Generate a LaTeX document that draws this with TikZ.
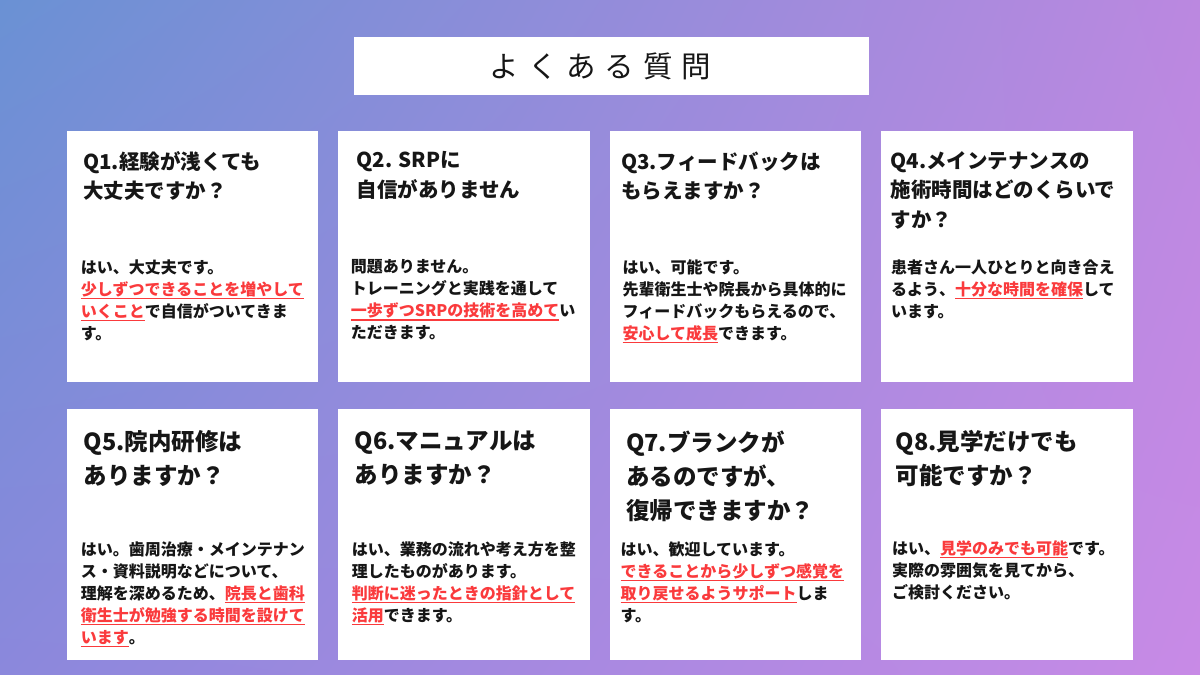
\documentclass[tikz,border=0pt]{standalone}
\usepackage{fontspec}
\setmainfont{Noto Sans CJK JP}
\newfontfamily\titlefont{Noto Sans CJK JP}
\usetikzlibrary{positioning, shadings}

\definecolor{BgTopLeft}{RGB}{106, 145, 212}
\definecolor{BgTopRight}{RGB}{187, 136, 224}
\definecolor{BgBottomLeft}{RGB}{139, 136, 220}
\definecolor{BgBottomRight}{RGB}{200, 138, 230}
\definecolor{Accent}{RGB}{250, 58, 60}
\definecolor{Ink}{RGB}{22, 22, 22}

\newsavebox{\keybox}
\newcommand{\keypoint}[1]{\textcolor{Accent}{\sbox{\keybox}{#1}%
    \rlap{\rule[-4pt]{\wd\keybox}{1.3pt}}\usebox{\keybox}}}

\begin{document}
\begin{tikzpicture}[
            x=1pt, y=-1pt,
            card/.style={rectangle, fill=white, minimum width=251.7pt, minimum height=251pt,
                         inner sep=0pt, outer sep=0pt},
            ques/.style={anchor=north west, align=left, inner sep=0pt, text=Ink,
                         font=\bfseries\fontsize{20.5}{29.5}\selectfont},
            quesbig/.style={ques, font=\bfseries\fontsize{23.5}{34}\selectfont},
            ans/.style={anchor=north west, align=left, inner sep=0pt, text=Ink,
                        font=\bfseries\fontsize{16}{22}\selectfont},
            titlebox/.style={rectangle, fill=white, minimum width=515pt, minimum height=58pt,
                             inner sep=0pt, text=Ink, font=\titlefont\fontsize{29.5}{29.5}\selectfont}
        ]
            \shade[upper left=BgTopLeft, upper right=BgTopRight,
                   lower left=BgBottomLeft, lower right=BgBottomRight] (0,0) rectangle (1200,675);
            \useasboundingbox (0,0) rectangle (1200,675);

            \node[titlebox] (title) at (611.5,66)
                {よ\hspace{9pt}く\hspace{9pt}あ\hspace{9pt}る\hspace{9pt}質\hspace{9pt}問\kern22pt};

            % cards
            \node[card, anchor=north west] (card1) at (66.7,131.3) {};
            \node[card, right=19.7pt of card1] (card2) {};
            \node[card, right=19.7pt of card2] (card3) {};
            \node[card, right=19.7pt of card3] (card4) {};
            \node[card, below=27pt of card1] (card5) {};
            \node[card, right=19.7pt of card5] (card6) {};
            \node[card, right=19.7pt of card6] (card7) {};
            \node[card, right=19.7pt of card7] (card8) {};

            % questions
            \node[ques] (q1) at ([xshift=16.5pt, yshift=-20pt]card1.north west) {Q1.経験が浅くても\\大丈夫ですか？};
            \node[ques] (q2) at ([xshift=18.5pt, yshift=-20pt]card2.north west) {Q2. SRPに\\自信がありません};
            \node[ques] (q3) at ([xshift=11.5pt, yshift=-20pt]card3.north west) {Q3.フィードバックは\\もらえますか？};
            \node[ques] (q4) at ([xshift=9.5pt, yshift=-20pt]card4.north west) {Q4.メインテナンスの\\施術時間はどのくらいで\\すか？};
            \node[quesbig] (q5) at ([xshift=17pt, yshift=-21pt]card5.north west) {Q5.院内研修は\\ありますか？};
            \node[quesbig] (q6) at ([xshift=16.5pt, yshift=-21pt]card6.north west) {Q6.マニュアルは\\ありますか？};
            \node[quesbig] (q7) at ([xshift=16.5pt, yshift=-21pt]card7.north west) {Q7.ブランクが\\あるのですが、\\復帰できますか？};
            \node[quesbig] (q8) at ([xshift=14.5pt, yshift=-21pt]card8.north west) {Q8.見学だけでも\\可能ですか？};

            % answers
            \node[ans] (a1) at ([xshift=14pt, yshift=-128pt]card1.north west)
                {はい、大丈夫です。\\\keypoint{少しずつできることを増やして}\\\keypoint{いくこと}で自信がついてきま\\す。};
            \node[ans] (a2) at ([xshift=12.5pt, yshift=-128pt]card2.north west)
                {問題ありません。\\トレーニングと実践を通して\\\keypoint{一歩ずつSRPの技術を高めて}い\\ただきます。};
            \node[ans] (a3) at ([xshift=13pt, yshift=-128pt]card3.north west)
                {はい、可能です。\\先輩衛生士や院長から具体的に\\フィードバックもらえるので、\\\keypoint{安心して成長}できます。};
            \node[ans] (a4) at ([xshift=10pt, yshift=-128pt]card4.north west)
                {患者さん一人ひとりと向き合え\\るよう、\keypoint{十分な時間を確保}して\\います。};
            \node[ans] (a5) at ([xshift=14pt, yshift=-132pt]card5.north west)
                {はい。歯周治療・メインテナン\\ス・資料説明などについて、\\理解を深めるため、\keypoint{院長と歯科}\\\keypoint{衛生士が勉強する時間を設けて}\\\keypoint{います}。};
            \node[ans] (a6) at ([xshift=13.5pt, yshift=-132pt]card6.north west)
                {はい、業務の流れや考え方を整\\理したものがあります。\\\keypoint{判断に迷ったときの指針として}\\\keypoint{活用}できます。};
            \node[ans] (a7) at ([xshift=11pt, yshift=-132pt]card7.north west)
                {はい、歓迎しています。\\\keypoint{できることから少しずつ感覚を}\\\keypoint{取り戻せるようサポート}しま\\す。};
            \node[ans] (a8) at ([xshift=11pt, yshift=-131pt]card8.north west)
                {はい、\keypoint{見学のみでも可能}です。\\実際の雰囲気を見てから、\\ご検討ください。};
        \end{tikzpicture}
\end{document}
